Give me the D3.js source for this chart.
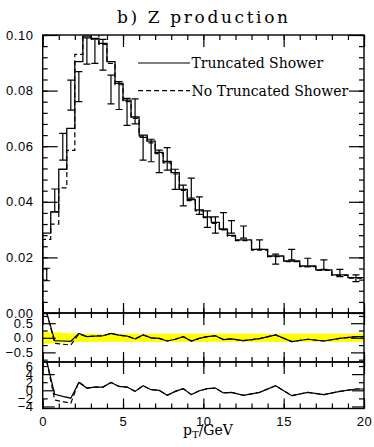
<!DOCTYPE html>
<html><head><meta charset="utf-8">
<script src="https://cdn.jsdelivr.net/npm/d3@7"></script>
<style>body{margin:0;background:#fff}svg{display:block}</style>
</head><body>
<script>
// ---------- data ----------
const binEdges = [0,0.5,1,1.5,2,2.5,3,3.5,4,4.5,5,5.5,6,6.5,7,7.5,8,8.5,9,9.5,10,10.5,11,11.5,12,13,14,15,16,17,18,19,20];
const truncated = [0.0287,0.0364,0.0517,0.0664,0.0904,0.0996,0.0988,0.0970,0.0904,0.0826,0.0766,0.0705,0.0640,0.0618,0.0578,0.0545,0.0505,0.0445,0.0408,0.0371,0.0346,0.0326,0.0302,0.0279,0.0263,0.0229,0.0205,0.0187,0.0169,0.0155,0.0137,0.0127];
const noTruncated = [0.0265,0.0320,0.0450,0.0585,0.0930,0.1008,0.1004,0.0966,0.0898,0.0821,0.0760,0.0700,0.0636,0.0612,0.0573,0.0540,0.0500,0.0441,0.0404,0.0367,0.0343,0.0322,0.0299,0.0276,0.0260,0.0226,0.0203,0.0185,0.0167,0.0153,0.0135,0.0125];
const errLow  = [0.0116,0.0364,0.0550,0.0730,0.0760,0.0895,0.0898,0.0874,0.0752,0.0732,0.0675,0.0680,0.0550,0.0544,0.0505,0.0514,0.0445,0.0385,0.0413,0.0355,0.0308,0.0287,0.0302,0.0287,0.0269,0.0229,0.0176,0.0191,0.0167,0.0157,0.0131,0.0113];
const errHigh = [0.0161,0.0446,0.0646,0.0838,0.0868,0.0990,0.0985,0.0984,0.0856,0.0832,0.0772,0.0770,0.0632,0.0625,0.0586,0.0595,0.0517,0.0460,0.0485,0.0418,0.0367,0.0346,0.0361,0.0332,0.0313,0.0263,0.0212,0.0229,0.0197,0.0191,0.0157,0.0137];

const ratioPt = [0.25,0.75,1.25,1.75,2.25,2.75,3.25,3.75,4.25,4.75,5.25,5.75,6.25,6.75,7.25,7.75,8.25,8.75,9.25,9.75,10.25,10.75,11.25,11.75,12.5,13.5,14.5,15.5,16.5,17.5,18.5,19.5,20];
const diffTrunc   = [0.86,-0.10,-0.11,-0.12,0.15,0.04,0.06,0.07,0.15,0.09,0.06,-0.04,0.10,0.00,-0.02,-0.11,-0.05,0.04,-0.11,-0.02,0.04,0.07,-0.06,-0.04,-0.10,-0.03,0.10,-0.13,-0.05,-0.11,-0.02,0.04,0.04];
const diffNoTrunc = [0.86,-0.19,-0.22,-0.25,0.13,0.04,0.06,0.07,0.15,0.09,0.06,-0.04,0.10,0.00,-0.02,-0.11,-0.05,0.04,-0.11,-0.02,0.04,0.07,-0.06,-0.04,-0.10,-0.03,0.10,-0.13,-0.05,-0.11,-0.02,0.04,0.04];
const bandPt   = [0,0.75,1.25,1.75,2.25,20];
const bandHalf = [0.20,0.19,0.17,0.15,0.14,0.14];
const pullTrunc   = [7.2,-1.0,-1.5,-1.95,1.93,0.56,0.8,0.8,1.93,0.95,0.8,-0.27,1.12,0.15,0.0,-1.24,-0.27,0.39,-1.07,-0.1,0.4,0.56,-0.66,-0.5,-1.24,-0.5,1.12,-1.32,-0.5,-1.07,-0.27,0.32,0.32];
const pullNoTrunc = [7.2,-2.4,-2.8,-3.2,2.1,0.56,0.8,0.8,1.93,0.95,0.8,-0.27,1.12,0.15,0.0,-1.24,-0.27,0.39,-1.07,-0.1,0.4,0.56,-0.66,-0.5,-1.24,-0.5,1.12,-1.32,-0.5,-1.07,-0.27,0.32,0.32];

const xTicks = [0,5,10,15,20];
const xMinorTicks = d3.range(0,21,1);
const yTicksMain = [0,0.02,0.04,0.06,0.08,0.10];
const yMinorMain = d3.range(0,0.1001,0.004);
const yTicksR1 = [-0.5,0,0.5];
const yMinorR1 = [-0.75,-0.25,0.25,0.75];
const yTicksR2 = [-4,0,4];
const yMinorR2 = [-2,2,6];
const yLabelsR2 = [-4,-2,0,2,4,6];
const seriesNames = ["Truncated Shower","No Truncated Shower"];

// ---------- layout ----------
const W=374,H=447;
const L=42.7,R=364,T=35,B0=313,B1=362,B2=408.5;
const svg = d3.select("body").append("svg").attr("width",W).attr("height",H);
const x  = d3.scaleLinear().domain([0,20]).range([L,R]);
const y0 = d3.scaleLinear().domain([0,0.1]).range([B0,T]);
const y1 = d3.scaleLinear().domain([-0.83,0.85]).range([B1,B0]);
const y2 = d3.scaleLinear().domain([-4.5,7.0]).range([B2,B1]);

const defs = svg.append("defs");
function clip(id,top,bot){
  defs.append("clipPath").attr("id",id).append("rect")
    .attr("x",L).attr("y",top).attr("width",R-L).attr("height",bot-top);
}
clip("c0",T,B0); clip("c1",B0,B1); clip("c2",B1,B2);

const sans = "'Liberation Sans', Arial, sans-serif";
const serif = "'DejaVu Serif', serif";

// band in panel 1
svg.append("path").attr("clip-path","url(#c1)")
  .datum(bandPt.map((p,i)=>[p,bandHalf[i]]))
  .attr("fill","#ffff00")
  .attr("d",d3.area().x(d=>x(d[0])).y0(d=>y1(-d[1])).y1(d=>y1(d[1])));

function stepPath(vals){
  let d = `M${x(binEdges[0])},${y0(0)}`;
  vals.forEach((v,i)=>{ d += `V${y0(v)}H${x(binEdges[i+1])}`; });
  return d;
}
const main = svg.append("g").attr("clip-path","url(#c0)");
main.append("path").attr("d",stepPath(noTruncated)).attr("fill","none")
  .attr("stroke","#000").attr("stroke-width",1.2).attr("stroke-dasharray","5,3");
main.append("path").attr("d",stepPath(truncated)).attr("fill","none")
  .attr("stroke","#000").attr("stroke-width",1.3);
// error bars
const eb = main.append("g").attr("stroke","#000").attr("stroke-width",1.2);
errLow.forEach((lo,i)=>{
  const cx = x((binEdges[i]+binEdges[i+1])/2);
  eb.append("line").attr("x1",cx).attr("x2",cx).attr("y1",y0(lo)).attr("y2",y0(errHigh[i]));
  eb.append("line").attr("x1",cx-3.5).attr("x2",cx+3.5).attr("y1",y0(lo)).attr("y2",y0(lo));
  eb.append("line").attr("x1",cx-3.5).attr("x2",cx+3.5).attr("y1",y0(errHigh[i])).attr("y2",y0(errHigh[i]));
});

// ratio lines
function rline(ys,vals,dash,clipId){
  svg.append("path").attr("clip-path",`url(#${clipId})`)
    .datum(ratioPt.map((p,i)=>[p,vals[i]]))
    .attr("fill","none").attr("stroke","#000").attr("stroke-width",1.2)
    .attr("stroke-dasharray",dash?"5,3":null)
    .attr("d",d3.line().x(d=>x(d[0])).y(d=>ys(d[1])));
}
rline(y1,diffNoTrunc,true,"c1"); rline(y1,diffTrunc,false,"c1");
rline(y2,pullNoTrunc,true,"c2"); rline(y2,pullTrunc,false,"c2");

// ---------- frames / axes ----------
function style(g){
  g.select(".domain").remove();
  g.selectAll("line").attr("stroke","#000").attr("stroke-width",1.2);
  g.selectAll("text").attr("font-family",sans).attr("font-size",13).attr("fill","#000");
}
function frame(ys,top,bot,major,minor,majLen){
  style(svg.append("g").attr("transform",`translate(0,${top})`).call(d3.axisTop(x).tickValues(xTicks).tickSize(-12).tickFormat("")));
  style(svg.append("g").attr("transform",`translate(0,${top})`).call(d3.axisTop(x).tickValues(xMinorTicks).tickSize(-5).tickFormat("")));
  style(svg.append("g").attr("transform",`translate(0,${bot})`).call(d3.axisBottom(x).tickValues(xTicks).tickSize(-10).tickFormat("")));
  style(svg.append("g").attr("transform",`translate(0,${bot})`).call(d3.axisBottom(x).tickValues(xMinorTicks).tickSize(-5).tickFormat("")));
  style(svg.append("g").attr("transform",`translate(${L},0)`).call(d3.axisLeft(ys).tickValues(major).tickSize(-majLen).tickFormat("")));
  style(svg.append("g").attr("transform",`translate(${L},0)`).call(d3.axisLeft(ys).tickValues(minor).tickSize(-5).tickFormat("")));
  style(svg.append("g").attr("transform",`translate(${R},0)`).call(d3.axisRight(ys).tickValues(major).tickSize(-majLen).tickFormat("")));
  style(svg.append("g").attr("transform",`translate(${R},0)`).call(d3.axisRight(ys).tickValues(minor).tickSize(-5).tickFormat("")));
  svg.append("rect").attr("x",L).attr("y",top).attr("width",R-L).attr("height",bot-top)
    .attr("fill","none").attr("stroke","#000").attr("stroke-width",1.4);
}
frame(y0,T,B0,yTicksMain,yMinorMain,15);
frame(y1,B0,B1,yTicksR1,yMinorR1,13);
frame(y2,B1,B2,yTicksR2,yMinorR2,12);

// y labels
function ylabels(ys,vals,fmt){
  const g = svg.append("g").attr("transform",`translate(${L},0)`)
    .call(d3.axisLeft(ys).tickValues(vals).tickSize(0).tickPadding(9).tickFormat(fmt));
  g.select(".domain").remove();
  g.selectAll("line").remove();
  g.selectAll("text").attr("font-family",sans).attr("font-size",13).attr("fill","#000").attr("letter-spacing","0.6px");
}
ylabels(y0,yTicksMain,d3.format(".2f"));
ylabels(y1,yTicksR1,d3.format(".1f"));
ylabels(y2,yLabelsR2,d3.format("d"));
// x labels
{
  const g = svg.append("g").attr("transform",`translate(0,${B2})`)
    .call(d3.axisBottom(x).tickValues(xTicks).tickSize(0).tickPadding(8).tickFormat(d3.format("d")));
  g.select(".domain").remove();
  g.selectAll("text").attr("font-family",sans).attr("font-size",13).attr("fill","#000").attr("letter-spacing","0.6px");
}

// title
svg.append("text").attr("x",117).attr("y",22.5).attr("font-family",serif).attr("font-size",17)
  .attr("textLength",171).attr("lengthAdjust","spacing").text("b) Z production");

// legend
const leg = [[63,false],[90.6,true]];
leg.forEach(([ly,dash],i)=>{
  svg.append("line").attr("x1",138).attr("x2",190).attr("y1",ly).attr("y2",ly)
    .attr("stroke","#000").attr("stroke-width",1.2).attr("stroke-dasharray",dash?"5,3":null);
  svg.append("text").attr("x",191.5).attr("y",ly+5).attr("font-family",serif).attr("font-size",14)
    .text(seriesNames[i]);
});

// x axis title
const xt = svg.append("text").attr("x",183).attr("y",435).attr("font-family",serif).attr("font-size",14);
xt.append("tspan").text("p");
xt.append("tspan").attr("font-size",10).attr("dy",3).text("T");
xt.append("tspan").attr("dy",-3).text("/GeV");
</script>
</body></html>
